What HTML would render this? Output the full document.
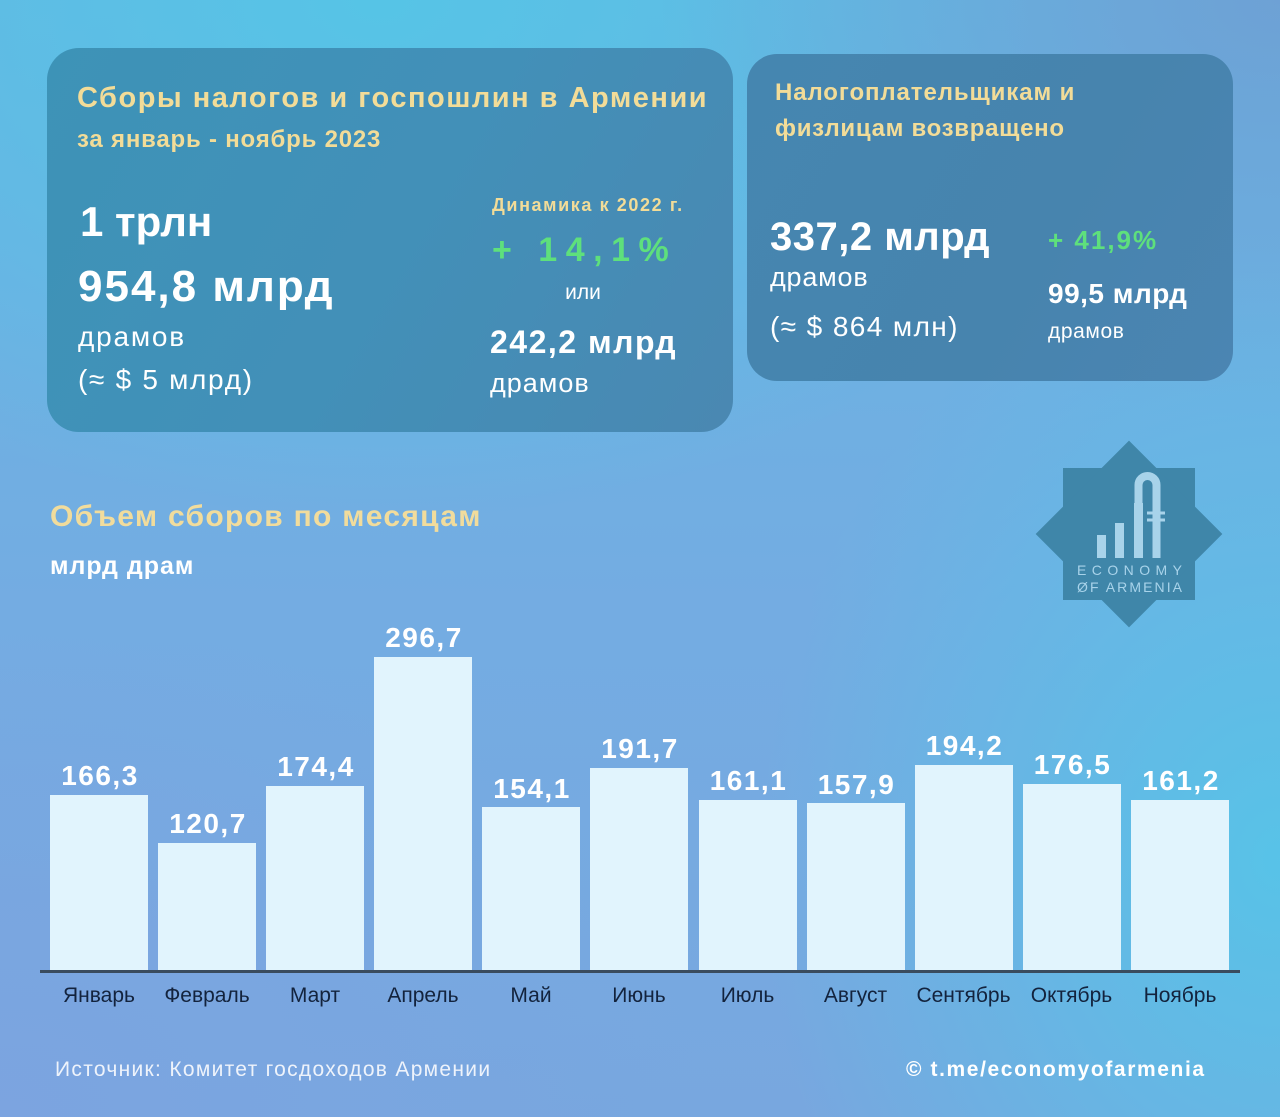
<!DOCTYPE html>
<html>
<head>
<meta charset="utf-8">
<style>
*{margin:0;padding:0;box-sizing:border-box;}
html,body{width:1280px;height:1117px;overflow:hidden;}
body{
  position:relative;
  font-family:"Liberation Sans","DejaVu Sans",sans-serif;
  background:
    radial-gradient(ellipse 520px 620px at 1280px 860px, rgba(86,196,232,0.95), rgba(86,196,232,0) 100%),
    radial-gradient(ellipse 620px 420px at 1280px 0px, rgba(110,160,212,0.95), rgba(110,160,212,0) 100%),
    radial-gradient(ellipse 760px 520px at 380px 0px, rgba(86,196,230,1), rgba(86,196,230,0) 100%),
    radial-gradient(ellipse 700px 500px at 0px 1117px, rgba(124,164,224,0.9), rgba(124,164,224,0) 100%),
    linear-gradient(to bottom, #66b6e3 0%, #74ace2 55%, #78a7df 100%);
}
.t{position:absolute;line-height:1;white-space:nowrap;}
.b{font-weight:bold;}
.y{color:#f2dc98;}
.w{color:#ffffff;}
.g{color:#5ee07c;}
.card1{position:absolute;left:47px;top:48px;width:686px;height:384px;border-radius:32px;
  background:linear-gradient(120deg,#3d93b7 0%,#4290b8 50%,#4a88b2 100%);}
.card2{position:absolute;left:747px;top:54px;width:486px;height:327px;border-radius:30px;
  background:linear-gradient(120deg,#4586b0 0%,#4784ae 60%,#4b85b2 100%);}
.bar{position:absolute;width:98px;background:#e1f4fd;}
.val{position:absolute;width:160px;text-align:center;font-weight:bold;font-size:28px;letter-spacing:1.5px;color:#fff;line-height:1;}
.mon{position:absolute;width:130px;text-align:center;font-size:21px;color:#13233d;line-height:1;top:985px;}
</style>
</head>
<body>

<div class="card1"></div>
<div class="card2"></div>

<!-- Card 1 -->
<div class="t b y" style="left:77px;top:83.5px;font-size:29px;letter-spacing:1.5px;">Сборы налогов и госпошлин в Армении</div>
<div class="t b y" style="left:77px;top:127.7px;font-size:24px;letter-spacing:0.8px;">за январь - ноябрь 2023</div>
<div class="t b w" style="left:80px;top:201.4px;font-size:42px;">1 трлн</div>
<div class="t b w" style="left:78px;top:264.8px;font-size:44px;letter-spacing:2px;">954,8 млрд</div>
<div class="t w" style="left:78px;top:323.3px;font-size:28px;letter-spacing:1.8px;">драмов</div>
<div class="t w" style="left:78px;top:366.3px;font-size:28px;letter-spacing:1.7px;">(≈ $ 5 млрд)</div>

<div class="t b y" style="left:492px;top:195.8px;font-size:18px;letter-spacing:1.6px;">Динамика к 2022 г.</div>
<div class="t b g" style="left:492px;top:233.2px;font-size:34px;letter-spacing:8.5px;">+ 14,1%</div>
<div class="t w" style="left:533px;top:282.2px;width:100px;text-align:center;font-size:21px;">или</div>
<div class="t b w" style="left:490px;top:325.9px;font-size:32px;letter-spacing:1.5px;">242,2 млрд</div>
<div class="t w" style="left:490px;top:370px;font-size:27px;letter-spacing:1px;">драмов</div>

<!-- Card 2 -->
<div class="t b y" style="left:775px;top:80.7px;font-size:24px;letter-spacing:0.9px;">Налогоплательщикам и</div>
<div class="t b y" style="left:775px;top:117.3px;font-size:24px;letter-spacing:0.7px;">физлицам возвращено</div>
<div class="t b w" style="left:770px;top:216.6px;font-size:40px;letter-spacing:0.5px;">337,2 млрд</div>
<div class="t w" style="left:770px;top:264px;font-size:27px;letter-spacing:0.8px;">драмов</div>
<div class="t w" style="left:770px;top:312.9px;font-size:28px;letter-spacing:1.4px;">(≈ $ 864 млн)</div>
<div class="t b g" style="left:1048px;top:226.6px;font-size:26px;letter-spacing:2px;">+ 41,9%</div>
<div class="t b w" style="left:1048px;top:280.3px;font-size:28px;letter-spacing:0.5px;">99,5 млрд</div>
<div class="t w" style="left:1048px;top:320.7px;font-size:21px;letter-spacing:0.6px;">драмов</div>

<!-- Logo -->
<svg style="position:absolute;left:1030px;top:440px;" width="200" height="190" viewBox="0 0 200 190">
  <g fill="#3f86a9">
    <rect x="33" y="28" width="132" height="132"/>
    <rect x="33" y="28" width="132" height="132" transform="rotate(45 99 94)"/>
  </g>
  <g fill="#a8d3ea">
    <rect x="67" y="95" width="9" height="23"/>
    <rect x="85" y="83" width="9" height="35"/>
    <rect x="104" y="63" width="9" height="55"/>
  </g>
  <path d="M108.5 118 V45 A9 9 0 0 1 126.5 45 V118" fill="none" stroke="#a8d3ea" stroke-width="8"/>
  <line x1="117" y1="73" x2="135" y2="73" stroke="#a8d3ea" stroke-width="3"/>
  <line x1="117" y1="80" x2="135" y2="80" stroke="#a8d3ea" stroke-width="3"/>
  <text x="47" y="135" font-family="Liberation Sans, sans-serif" font-size="14" fill="#a8d3ea" textLength="105" lengthAdjust="spacing">ECONOMY</text>
  <text x="47" y="152" font-family="Liberation Sans, sans-serif" font-size="14" fill="#a8d3ea" textLength="105" lengthAdjust="spacing">ØF ARMENIA</text>
</svg>

<!-- Section title -->
<div class="t b y" style="left:50px;top:501.6px;font-size:30px;letter-spacing:1.3px;color:#f1dc9c;">Объем сборов по месяцам</div>
<div class="t b w" style="left:50px;top:553.8px;font-size:25px;letter-spacing:1px;">млрд драм</div>

<!-- Bars: top = 970 - 1.055*v -->
<div class="bar" style="left:50px;top:794.6px;height:175.4px;"></div>
<div class="bar" style="left:158px;top:842.7px;height:127.3px;"></div>
<div class="bar" style="left:266px;top:786px;height:184px;"></div>
<div class="bar" style="left:374px;top:657px;height:313px;"></div>
<div class="bar" style="left:482px;top:807.4px;height:162.6px;"></div>
<div class="bar" style="left:590px;top:767.8px;height:202.2px;"></div>
<div class="bar" style="left:698.5px;top:800px;height:170px;"></div>
<div class="bar" style="left:806.5px;top:803.4px;height:166.6px;"></div>
<div class="bar" style="left:914.5px;top:765.1px;height:204.9px;"></div>
<div class="bar" style="left:1022.5px;top:783.8px;height:186.2px;"></div>
<div class="bar" style="left:1131px;top:800px;height:170px;"></div>

<!-- Values -->
<div class="val" style="left:20px;top:762px;">166,3</div>
<div class="val" style="left:128px;top:810px;">120,7</div>
<div class="val" style="left:236px;top:753.3px;">174,4</div>
<div class="val" style="left:344px;top:624.3px;">296,7</div>
<div class="val" style="left:452px;top:774.7px;">154,1</div>
<div class="val" style="left:560px;top:735.1px;">191,7</div>
<div class="val" style="left:668.5px;top:767.3px;">161,1</div>
<div class="val" style="left:776.5px;top:770.7px;">157,9</div>
<div class="val" style="left:884.5px;top:732.4px;">194,2</div>
<div class="val" style="left:992.5px;top:751.1px;">176,5</div>
<div class="val" style="left:1101px;top:767.3px;">161,2</div>

<!-- Baseline -->
<div style="position:absolute;left:40px;top:969.5px;width:1200px;height:3.5px;background:#3a4c5e;"></div>

<!-- Months -->
<div class="mon" style="left:34px;">Январь</div>
<div class="mon" style="left:142px;">Февраль</div>
<div class="mon" style="left:250px;">Март</div>
<div class="mon" style="left:358px;">Апрель</div>
<div class="mon" style="left:466px;">Май</div>
<div class="mon" style="left:574px;">Июнь</div>
<div class="mon" style="left:682.5px;">Июль</div>
<div class="mon" style="left:790.5px;">Август</div>
<div class="mon" style="left:898.5px;">Сентябрь</div>
<div class="mon" style="left:1006.5px;">Октябрь</div>
<div class="mon" style="left:1115px;">Ноябрь</div>

<!-- Footer -->
<div class="t" style="left:55px;top:1059.2px;font-size:21px;letter-spacing:1.3px;color:#eef3fb;">Источник: Комитет госдоходов Армении</div>
<div class="t b" style="left:906px;top:1059.2px;font-size:21px;letter-spacing:1.6px;color:#ffffff;">© t.me/economyofarmenia</div>

</body>
</html>
